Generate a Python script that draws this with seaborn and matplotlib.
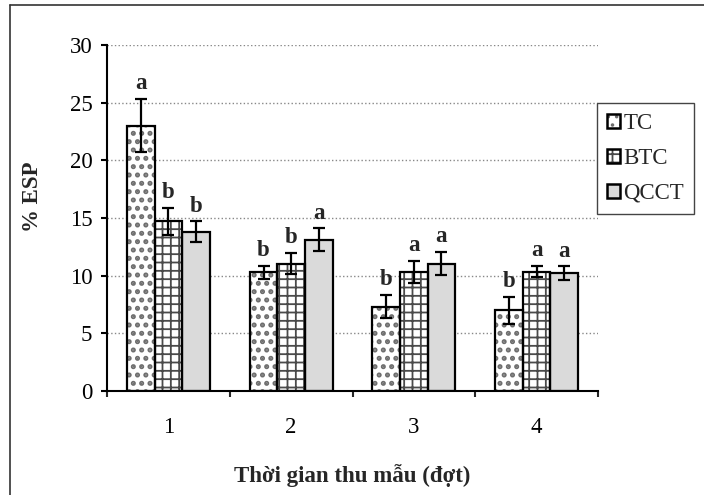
import pandas as pd
import matplotlib.pyplot as plt
import seaborn as sns
from matplotlib.patches import Patch
from matplotlib.lines import Line2D
from matplotlib.legend_handler import HandlerTuple

# values
dot = ['1', '2', '3', '4']
nghiem_thuc = ['TC', 'BTC', 'QCCT']
tc = [23.0, 10.3, 7.3, 7.0]
btc = [14.7, 11.05, 10.35, 10.35]
qcct = [13.8, 13.1, 11.05, 10.2]
tc_err = [2.3, 0.55, 1.0, 1.15]
btc_err = [1.2, 0.9, 0.95, 0.5]
qcct_err = [0.9, 1.0, 1.0, 0.6]
tc_chu = ['a', 'b', 'b', 'b']
btc_chu = ['b', 'b', 'a', 'a']
qcct_chu = ['b', 'a', 'a', 'a']

df = pd.DataFrame({
    'dot': dot * 3,
    'nt': [n for n in nghiem_thuc for _ in dot],
    'esp': tc + btc + qcct,
    'sd': tc_err + btc_err + qcct_err,
    'chu': tc_chu + btc_chu + qcct_chu,
})

sns.set_theme(style='white')
plt.rcParams['font.family'] = ['Liberation Serif', 'DejaVu Serif']
plt.rcParams['hatch.linewidth'] = 1.3

fs = 16.5
fills = ['white', 'white', '#dadada']
hatches = ['..', '++', None]
hatch_colors = ['#6e6e6e', '#4a4a4a', '#d9d9d9']
hatch_lw = [2.4, 1.3, 1.0]


def style_hatch(p, i):
    p.set_edgecolor(hatch_colors[i])
    p.set_linewidth(0)
    if hatches[i]:
        p.set_hatch(hatches[i])
    if hasattr(p, 'set_hatch_linewidth'):
        p.set_hatch_linewidth(hatch_lw[i])


fig = plt.figure(figsize=(7.04, 4.95), dpi=100)
ax = fig.add_axes([107 / 704, 1 - 391 / 495, 491 / 704, 346 / 495])

sns.barplot(data=df, x='dot', y='esp', hue='nt', order=dot, hue_order=nghiem_thuc,
            palette=fills, saturation=1, width=0.675, gap=0,
            errorbar=None, legend=False, ax=ax)

bar_groups = list(ax.containers)
for i, cont in enumerate(bar_groups):
    sub = df[df['nt'] == nghiem_thuc[i]]
    for bar, (_, row) in zip(cont, sub.iterrows()):
        style_hatch(bar, i)
        x = bar.get_x() + bar.get_width() / 2
        ax.bar(x, row['esp'], width=bar.get_width(), fill=False,
               edgecolor='black', linewidth=1.6, zorder=3)
        ax.errorbar(x, row['esp'], yerr=row['sd'], color='black', lw=1.6,
                    capsize=4.5, capthick=1.6, zorder=4)
        ax.text(x, row['esp'] + row['sd'] + 0.85, row['chu'], ha='center',
                va='baseline', fontweight='bold', fontsize=fs)

ax.set_xlim(-0.5, 3.5)
ax.set_ylim(0, 30)
ax.set_yticks(range(0, 31, 5))
ax.set_xticks([-0.5, 0.5, 1.5, 2.5, 3.5], minor=True)
ax.yaxis.grid(True, linestyle=':', color='#888888', lw=1)
ax.set_axisbelow(True)
ax.tick_params(axis='y', left=True, length=4.5, width=1.5, labelsize=fs, pad=6,
               colors='black')
ax.tick_params(axis='x', which='major', length=0, pad=19, labelsize=fs, colors='black')
ax.tick_params(axis='x', which='minor', bottom=True, length=4, width=1.5)
for s in ['top', 'right']:
    ax.spines[s].set_visible(False)
for s in ['left', 'bottom']:
    ax.spines[s].set_color('black')
    ax.spines[s].set_linewidth(1.5)
ax.set_xlabel('')
ax.set_ylabel('')

fig.text(32 / 704, 1 - 197 / 495, '% ESP', rotation=90, ha='center', va='center',
         fontweight='bold', fontsize=fs)
fig.text(352 / 704, 1 - 482 / 495, 'Thời gian thu mẫu (đợt)', ha='center',
         va='baseline', fontweight='bold', fontsize=fs)

handles = []
for i in range(3):
    inner = Patch(facecolor=fills[i])
    style_hatch(inner, i)
    handles.append((inner, Patch(facecolor='none', edgecolor='black', linewidth=1.8)))
leg = fig.legend(handles, nghiem_thuc, loc='upper left',
                 bbox_to_anchor=(597 / 704, 1 - 103 / 495), borderaxespad=0,
                 handler_map={tuple: HandlerTuple(ndivide=1)},
                 handlelength=0.55, handleheight=0.55, handletextpad=0.15,
                 labelspacing=0.6, borderpad=0.45, fontsize=fs,
                 frameon=True, fancybox=False, edgecolor='#444444', framealpha=1)
leg.get_frame().set_linewidth(1.0)

# outer frame of the chart area
fig.add_artist(Line2D([10 / 704, 10 / 704], [0, 1 - 5 / 495], transform=fig.transFigure,
                      color='#333333', lw=1.2))
fig.add_artist(Line2D([10 / 704, 1], [1 - 5 / 495, 1 - 5 / 495], transform=fig.transFigure,
                      color='#333333', lw=1.2))

fig.savefig('out.png', dpi=100)
